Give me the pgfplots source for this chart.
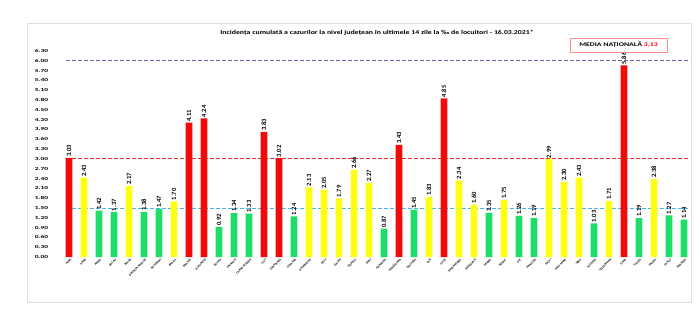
\documentclass[border=0pt]{standalone}
\usepackage{fontspec}
\setmainfont{Carlito}
\usepackage{pgfplots}
\pgfplotsset{compat=1.18}
\definecolor{barred}{RGB}{240,10,10}
\definecolor{baryellow}{RGB}{255,255,20}
\definecolor{bargreen}{RGB}{30,222,105}
\definecolor{linepurple}{RGB}{110,100,190}
\definecolor{lineblue}{RGB}{70,180,230}
\definecolor{linered}{RGB}{240,50,50}
\pgfplotsset{mybar/.style={ybar, bar width=0.45, bar shift=0pt, draw=none,
  nodes near coords,
  nodes near coords style={rotate=90, anchor=west, inner sep=1pt, font=\bfseries\fontsize{6.5}{7}\selectfont, black,
    /pgf/number format/.cd, fixed, fixed zerofill, precision=2}},
  refline/.style={color=#1, line width=0.9pt, dash pattern=on 3.5pt off 2.5pt, mark=none, forget plot}}
\begin{document}
\begin{tikzpicture}
\useasboundingbox (0,0) rectangle (700pt,330pt);
\fill[white] (0,0) rectangle (700pt,330pt);
\draw[black!12, line width=0.6pt] (27pt,28pt) rectangle (691pt,307pt);
\begin{axis}[
  at={(66pt,73pt)}, anchor=south west,
  scale only axis, width=624pt, height=212.55pt,
  xmin=-0.2, xmax=41.4, ymin=0, ymax=6.5,
  axis line style={draw=none},
  major tick length=0pt,
  /pgf/number format/assume math mode=true,
  ytick={0,0.3,0.6,0.9,1.2,1.5,1.8,2.1,2.4,2.7,3.0,3.3,3.6,3.9,4.2,4.5,4.8,5.1,5.4,5.7,6.0,6.3},
  yticklabel style={font=\bfseries\fontsize{4.6}{5}\selectfont, xscale=1.6, anchor=east, inner sep=0pt, xshift=-11pt,
    /pgf/number format/.cd, fixed, fixed zerofill, precision=2},
  xtick={0,...,41},
  xticklabels={ALBA,ARAD,ARGES,BACAU,BIHOR,BISTRITA-NASAUD,BOTOSANI,BRAILA,BRASOV,BUCURESTI,BUZAU,CALARASI,CARAS-SEVERIN,CLUJ,CONSTANTA,COVASNA,DAMBOVITA,DOLJ,GALATI,GIURGIU,GORJ,HARGHITA,HUNEDOARA,IALOMITA,IASI,ILFOV,MARAMURES,MEHEDINTI,MURES,NEAMT,OLT,PRAHOVA,SALAJ,SATU MARE,SIBIU,SUCEAVA,TELEORMAN,TIMIS,TULCEA,VALCEA,VASLUI,VRANCEA},
  xticklabel style={font=\bfseries\fontsize{3}{3.5}\selectfont, rotate=45, anchor=east, inner sep=0.3pt, yshift=-3pt},
  clip=false,
]
\addplot[refline=linered] coordinates {(-0.2,3) (41.4,3)};
\addplot[refline=linepurple] coordinates {(-0.2,6) (41.4,6)};
\addplot[refline=lineblue] coordinates {(-0.2,1.5) (41.4,1.5)};
% red
\addplot[mybar, fill=barred] coordinates {(0,3.03) (8,4.11) (9,4.24) (13,3.83) (14,3.02) (22,3.43) (25,4.85) (37,5.86)};
% yellow
\addplot[mybar, fill=baryellow] coordinates {(1,2.43) (4,2.17) (7,1.70) (16,2.13) (17,2.05) (18,1.79) (19,2.66) (20,2.27) (24,1.83) (26,2.34) (27,1.60) (29,1.75) (32,2.99) (33,2.30) (34,2.43) (36,1.71) (39,2.38)};
% green
\addplot[mybar, fill=bargreen] coordinates {(2,1.42) (3,1.37) (5,1.38) (6,1.47) (10,0.92) (11,1.34) (12,1.33) (15,1.24) (21,0.87) (23,1.45) (28,1.35) (30,1.26) (31,1.19) (35,1.03) (38,1.19) (40,1.27) (41,1.14)};
\end{axis}
\node[font=\bfseries\fontsize{6}{7}\selectfont, xscale=1.3] at (377pt,297pt) {Incidența cumulată a cazurilor la nivel județean în ultimele 14 zile la ‰ de locuitori - 16.03.2021*};
\draw[red!45, line width=0.6pt] (570pt,278pt) rectangle (667pt,292pt);
\node[font=\bfseries\fontsize{5.6}{6}\selectfont, xscale=1.4] at (618.5pt,285pt) {MEDIA NAȚIONALĂ \textcolor{red}{3,13}};
\end{tikzpicture}
\end{document}
